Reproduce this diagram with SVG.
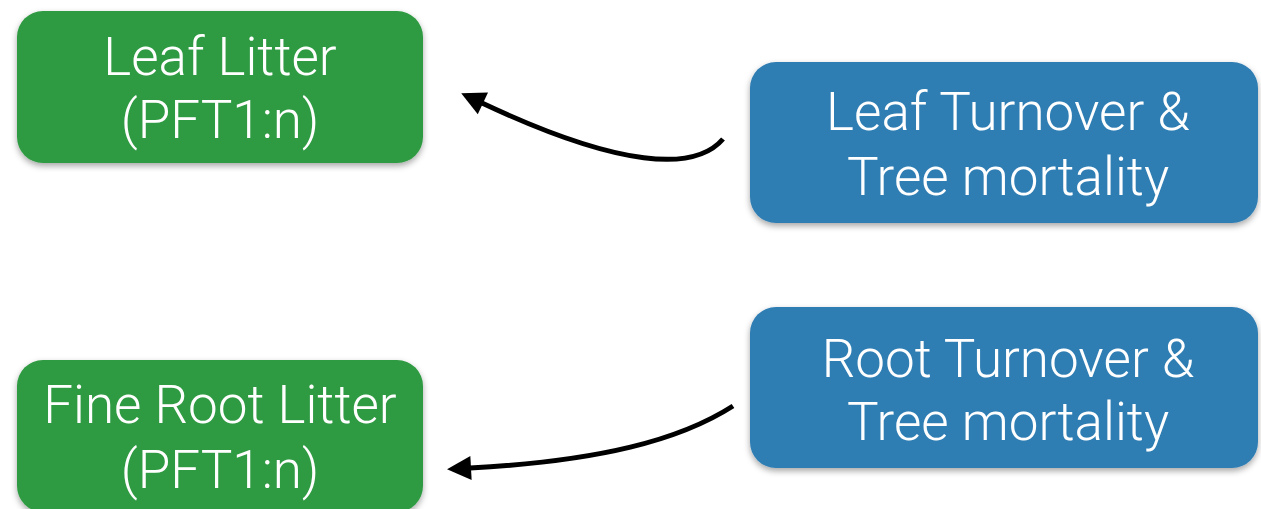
<svg xmlns="http://www.w3.org/2000/svg" width="1261" height="509" viewBox="0 0 1261 509">
<style>
.green{fill:#2f9a42;}
.blue{fill:#2f7db3;}
.lbl{font-family:Roboto,"Liberation Sans",sans-serif;font-weight:300;font-size:53px;fill:#ffffff;text-anchor:middle;}
.conn{fill:none;stroke:#000;stroke-width:5;stroke-linecap:butt;}
</style>
<defs>
<filter id="sh" x="-10%" y="-10%" width="120%" height="130%">
<feDropShadow dx="0" dy="3" stdDeviation="3" flood-color="#000" flood-opacity="0.35"/>
</filter>
<marker id="ah" markerUnits="userSpaceOnUse" markerWidth="30" markerHeight="30" refX="0" refY="0" orient="auto" overflow="visible">
<path d="M-1,-12 L23,0 L-1,12 Z" fill="#000"/>
</marker>
</defs>
<g id="leaf-litter">
<rect class="green" x="17" y="11" width="406" height="152" rx="26" filter="url(#sh)"/>
<text class="lbl" x="220" y="75">Leaf Litter</text>
<text class="lbl" x="220" y="138">(PFT1:n)</text>
</g>
<g id="fine-root-litter">
<rect class="green" x="17" y="360" width="406" height="152" rx="26" filter="url(#sh)"/>
<text class="lbl" x="220" y="423">Fine Root Litter</text>
<text class="lbl" x="220" y="488">(PFT1:n)</text>
</g>
<g id="leaf-turnover">
<rect class="blue" x="750" y="62" width="508" height="161" rx="26" filter="url(#sh)"/>
<text class="lbl" x="1008" y="130">Leaf Turnover &amp;</text>
<text class="lbl" x="1008" y="195">Tree mortality</text>
</g>
<g id="root-turnover">
<rect class="blue" x="750" y="307" width="508" height="161" rx="26" filter="url(#sh)"/>
<text class="lbl" x="1008" y="377">Root Turnover &amp;</text>
<text class="lbl" x="1008" y="440">Tree mortality</text>
</g>
<g id="connectors">
<path class="conn" d="M723,139 C695,172 620,168 482,103" marker-end="url(#ah)"/>
<path class="conn" d="M733,406 C680,440 600,461 470,468" marker-end="url(#ah)"/>
</g>
</svg>
